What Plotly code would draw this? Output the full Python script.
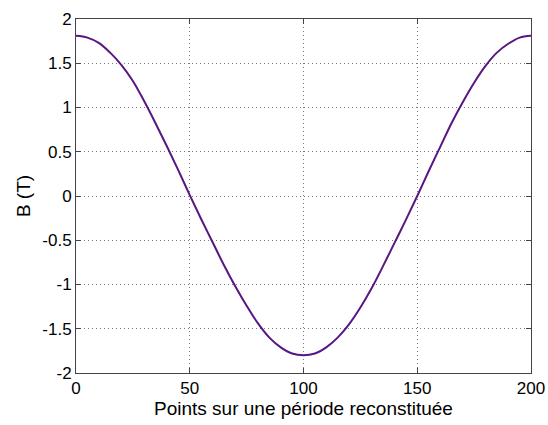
import plotly.graph_objects as go

# Points sampled along one reconstructed period
points = [0, 5, 10, 15, 20, 25, 30, 35, 40, 45, 50, 55, 60, 65, 70, 75, 80, 85, 90, 95,
          100, 105, 110, 115, 120, 125, 130, 135, 140, 145, 150, 155, 160, 165, 170, 175,
          180, 185, 190, 195, 200]
# Flux density B (T)
b_values = [1.81, 1.79, 1.73, 1.62, 1.48, 1.30, 1.07, 0.82, 0.56, 0.29, 0.01,
            -0.26, -0.52, -0.78, -1.02, -1.24, -1.44, -1.60, -1.71, -1.78,
            -1.80, -1.78, -1.71, -1.60, -1.45, -1.26, -1.04, -0.79, -0.53, -0.27,
            0.00, 0.28, 0.55, 0.82, 1.06, 1.28, 1.47, 1.62, 1.72, 1.79, 1.81]

x_ticks = [0, 50, 100, 150, 200]
y_ticks = [-2, -1.5, -1, -0.5, 0, 0.5, 1, 1.5, 2]
y_tick_text = ["-2", "-1.5", "-1", "-0.5", "0", "0.5", "1", "1.5", "2"]

FONT = "Liberation Sans, Arial, sans-serif"

fig = go.Figure()
fig.add_trace(go.Scatter(
    x=points, y=b_values, mode="lines",
    line=dict(color="#581683", width=2, shape="spline", smoothing=1.0),
    showlegend=False,
))

axis_common = dict(
    showline=True, linecolor="#444444", linewidth=1, mirror="ticks",
    ticks="inside", ticklen=5, tickcolor="#444444",
    showgrid=True, gridcolor="#7a7a7a", griddash="1px,3px", gridwidth=1,
    zeroline=False, automargin=False,
    tickfont=dict(family=FONT, size=17, color="#000000"),
    title_font=dict(family=FONT, size=19, color="#000000"),
)

fig.update_xaxes(range=[0, 200], tickvals=x_ticks, ticktext=[str(v) for v in x_ticks],
                 title_text="Points sur une période reconstituée", title_standoff=3,
                 **axis_common)
fig.update_yaxes(range=[-2, 2], tickvals=y_ticks, ticktext=y_tick_text,
                 title_text="B (T)", title_standoff=6, **axis_common)

fig.update_layout(
    width=548, height=425,
    margin=dict(l=76, r=17, t=19, b=52),
    paper_bgcolor="white", plot_bgcolor="white",
)

fig.write_html("out.html")
